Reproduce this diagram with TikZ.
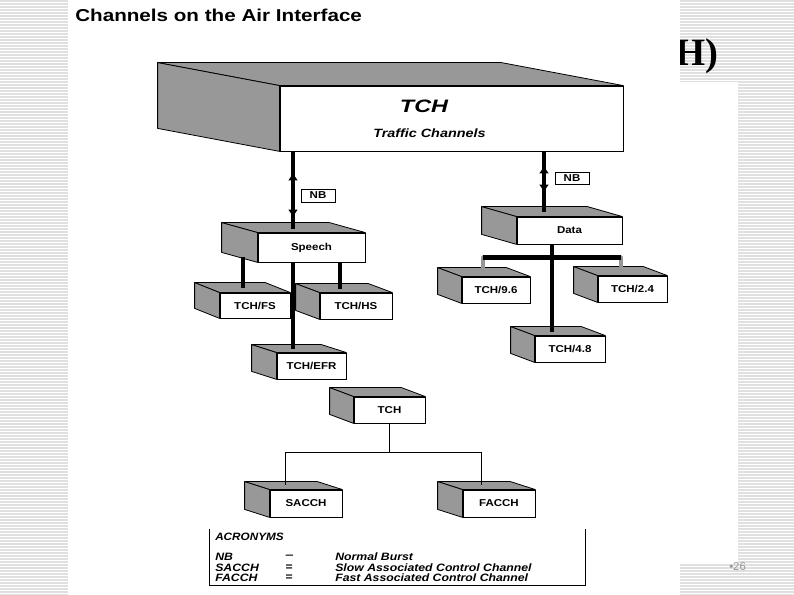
\documentclass[tikz,border=0pt]{standalone}
\usepackage{fontspec}
\setmainfont{Liberation Sans}
\newfontfamily\romana{Liberation Serif}
\usepackage{graphicx}
\usetikzlibrary{calc,arrows.meta}

\definecolor{cara}{RGB}{152,152,152}
\definecolor{raya}{RGB}{224,224,224}
\definecolor{gris}{RGB}{150,150,150}

\newcommand\ancho[2][1.15]{\scalebox{#1}[1]{#2}}

\begin{document}
\begin{tikzpicture}[
        x=0.75pt, y=-0.75pt,
        frente/.style 2 args={rectangle, draw=black, fill=white, line width=0.6pt, inner sep=0pt, minimum width=#1*0.75pt, minimum height=#2*0.75pt, font=\fontsize{7.5}{9}\selectfont\bfseries},
        lado/.style={fill=cara, draw=black, line width=0.6pt, line join=round},
        barra/.style={line width=3.6pt, black},
        flecha/.style={line width=3.6pt, {Latex[length=6pt,width=7.5pt]}-{Latex[length=6pt,width=7.5pt]}},
        tope/.style={line width=3pt, gris, line cap=round},
        rama/.style={line width=0.7pt},
        nb/.style={rectangle, draw, fill=white, line width=0.6pt, inner sep=0pt, minimum width=34*0.75pt, minimum height=13*0.75pt, font=\fontsize{7.5}{9}\selectfont\bfseries},
        acro/.style={anchor=west, inner sep=0pt, font=\fontsize{8}{9}\selectfont\bfseries\itshape}
    ]
        \useasboundingbox (0,0) rectangle (794,595);
        % slide background
        \foreach \y in {0,3,...,594}
            \draw[raya, line width=0.8pt] (0,\y+1) -- (794,\y+1);
        \node[anchor=base west, inner sep=0pt, font=\romana\fontsize{29}{30}\selectfont\bfseries] (resto) at (675,66) {H)};
        \fill[white] (68,0) rectangle (680,595);
        \fill[white] (680,82) rectangle (738,563);

        \node[anchor=base west, inner sep=0pt, font=\fontsize{12.9}{15}\selectfont\bfseries] (titulo) at (75,22) {\ancho[1.2]{Channels on the Air Interface}};
        \node[anchor=west, inner sep=0pt, text=gris, font=\fontsize{8.5}{9}\selectfont] (pag) at (729,567) {•26};

        % boxes
        \node[frente={343}{65}] (tch) at (451.5,118.5) {};
        \node[frente={107}{29}] (speech) at (311.5,247.5) {\ancho{Speech}};
        \node[frente={105}{27}] (data) at (569.5,230.5) {\ancho{Data}};
        \node[frente={68}{26}] (tch96) at (496,290) {\ancho{TCH/9.6}};
        \node[frente={69}{26}] (tch24) at (632.5,289) {\ancho{TCH/2.4}};
        \node[frente={70}{26}] (tch48) at (570,349) {\ancho{TCH/4.8}};
        \node[frente={70}{25}] (tchfs) at (255,305.5) {\ancho{TCH/FS}};
        \node[frente={72}{26}] (tchhs) at (356,306) {\ancho{TCH/HS}};
        \node[frente={69}{26}] (tchefr) at (311.5,366) {\ancho{TCH/EFR}};
        \node[frente={71}{26}] (tchb) at (389.5,410) {\ancho{TCH}};
        \node[frente={72}{27}] (sacch) at (306,503.5) {\ancho{SACCH}};
        \node[frente={72}{27}] (facch) at (499,503.5) {\ancho{FACCH}};

        \foreach \caja/\dx/\dy in {tch/-122/-23, speech/-36/-10, data/-35/-10, tch96/-24/-9, tch24/-24/-9, tch48/-24/-9, tchfs/-25/-10, tchhs/-24/-9, tchefr/-25/-8, tchb/-24/-9, sacch/-25/-8, facch/-25/-8} {
            \filldraw[lado] (\caja.north west) -- ++(\dx,\dy) -- ($(\caja.north east)+(\dx,\dy)$) -- (\caja.north east) -- cycle;
            \filldraw[lado] (\caja.north west) -- ++(\dx,\dy) -- ($(\caja.south west)+(\dx,\dy)$) -- (\caja.south west) -- cycle;
        }

        \node[font=\fontsize{13.5}{15}\selectfont\bfseries\itshape] (tchtit) at (424,106) {\ancho[1.3]{TCH}};
        \node[font=\fontsize{9}{11}\selectfont\bfseries\itshape] (tchsub) at (429.5,133) {\ancho[1.2]{Traffic Channels}};

        % TCH to Speech and Data
        \coordinate (sp-top) at ([shift={(-18.5,-4)}]speech.north);
        \coordinate (da-top) at ([shift={(-25.5,-5)}]data.north);
        \draw[barra] (sp-top |- tch.south) -- (sp-top);
        \draw[flecha] ($(sp-top |- tch.south)+(0,21)$) -- ($(sp-top)+(0,-11)$);
        \draw[barra] (da-top |- tch.south) -- (da-top);
        \draw[flecha] ($(da-top |- tch.south)+(0,14)$) -- ($(da-top)+(0,-19)$);
        \node[nb] (nb1) at (318,195.5) {\ancho{NB}};
        \node[nb, minimum height=12*0.75pt] (nb2) at (572,178) {\ancho{NB}};

        % Speech branches
        \coordinate (fs-top) at ([shift={(-12,-5)}]tchfs.north);
        \coordinate (hs-top) at ([shift={(-16,-4)}]tchhs.north);
        \coordinate (efr-top) at ([shift={(-18.5,-4)}]tchefr.north);
        \draw[barra] ($(fs-top |- speech.south)+(0,-5)$) -- (fs-top);
        \draw[barra] (hs-top |- speech.south) -- (hs-top);
        \draw[barra] (efr-top |- speech.south) -- (efr-top);

        % Data branches
        \coordinate (c48-top) at ([shift={(-18,-4)}]tch48.north);
        \coordinate (c96-top) at ([shift={(-13,-7)}]tch96.north);
        \coordinate (c24-top) at ([shift={(-11.5,-6)}]tch24.north);
        \coordinate (dj) at ($(c48-top |- data.south)+(0,13)$);
        \draw[tope] (dj -| c96-top) -- (c96-top);
        \draw[tope] (dj -| c24-top) -- (c24-top);
        \draw[barra] (c48-top |- data.south) -- (c48-top);
        \draw[barra] (dj -| c96-top) -- (dj -| c24-top);

        % TCH tree
        \coordinate (sa-top) at ([shift={(-21,-5)}]sacch.north);
        \coordinate (fa-top) at ([shift={(-18,-5)}]facch.north);
        \coordinate (rj) at ([shift={(0,29)}]tchb.south);
        \draw[rama] (tchb.south) -- (rj);
        \draw[rama] (sa-top) |- (rj) -| (fa-top);

        % acronyms
        \node[inner sep=0pt, minimum width=375*0.75pt, minimum height=56*0.75pt] (acr) at (397.5,557) {};
        \draw[rama] (acr.north west) -- (acr.south west) -- (acr.south east) -- (acr.north east);
        \node[acro] (acrt) at (215,537) {\ancho[1.1]{ACRONYMS}};
        \node[acro] (a1) at (215,557) {\ancho{NB}};
        \node[acro] (a2) at (215,567.5) {\ancho{SACCH}};
        \node[acro] (a3) at (215,578) {\ancho{FACCH}};
        \node[acro] (e1) at (285,557) {\ancho[1.4]{--}};
        \node[acro] (e2) at (285,567.5) {\ancho{=}};
        \node[acro] (e3) at (285,578) {\ancho{=}};
        \node[acro] (d1) at (335,557) {\ancho{Normal Burst}};
        \node[acro] (d2) at (335,567.5) {\ancho{Slow Associated Control Channel}};
        \node[acro] (d3) at (335,578) {\ancho{Fast Associated Control Channel}};
    \end{tikzpicture}
\end{document}
